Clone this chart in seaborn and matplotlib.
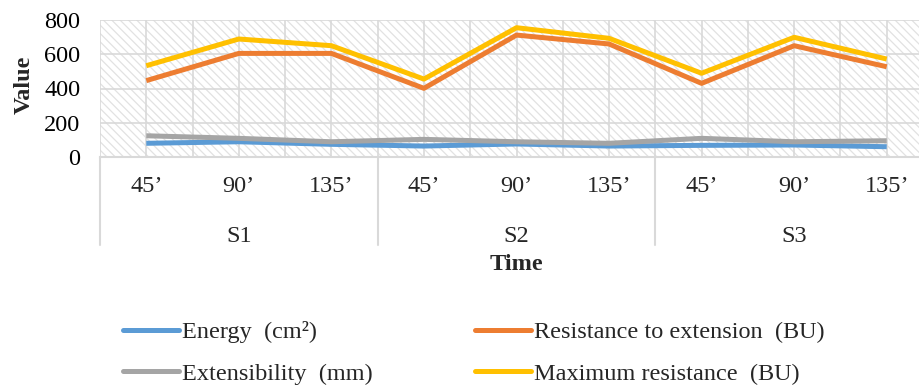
import matplotlib
matplotlib.use("Agg")
import matplotlib.pyplot as plt
from matplotlib.patches import Rectangle
from matplotlib.lines import Line2D
import numpy as np
import pandas as pd
import seaborn as sns

# ---- data ----
groups = ["S1", "S2", "S3"]
times = ["45\u2019", "90\u2019", "135\u2019"]
series_names = ["Energy  (cm\u00b2)", "Resistance to extension  (BU)",
                "Extensibility  (mm)", "Maximum resistance  (BU)"]
energy = [80, 89, 74, 64, 76, 64, 68, 70, 60]
resistance = [446, 605, 605, 401, 712, 660, 430, 650, 527]
extensibility = [124, 109, 89, 103, 89, 80, 109, 89, 95]
maximum = [533, 689, 650, 455, 755, 693, 489, 699, 572]
colors = ["#5B9BD5", "#ED7D31", "#A5A5A5", "#FFC000"]
y_ticks = [0, 200, 400, 600, 800]

# ---- long-form table ----
cats = [(g, t) for g in groups for t in times]
rows = []
for name, vals in zip(series_names, [energy, resistance, extensibility, maximum]):
    for i, v in enumerate(vals):
        rows.append({"pos": i, "group": cats[i][0], "time": cats[i][1],
                     "series": name, "value": v})
df = pd.DataFrame(rows)

sns.set_theme(style="white")
plt.rcParams["font.family"] = ["Liberation Serif", "DejaVu Serif"]
plt.rcParams["hatch.linewidth"] = 0.9

FS = 17.5
W, H = 920, 387
fig = plt.figure(figsize=(W / 100, H / 100), dpi=100)
ax_l, ax_r, ax_t, ax_b = 100, 933, 20, 157
ax = fig.add_axes([ax_l / W, 1 - ax_b / H, (ax_r - ax_l) / W, (ax_b - ax_t) / H])

# hatched plot background
bg = Rectangle((0, 0), 1, 1, transform=ax.transAxes, facecolor="white",
               edgecolor="#e2e2e2", hatch="\\\\\\\\", linewidth=0, zorder=0.1)
ax.add_patch(bg)
ax.patch.set_visible(False)

sns.lineplot(data=df, x="pos", y="value", hue="series", hue_order=series_names,
             palette=colors, linewidth=3.6, legend=False, ax=ax, zorder=3)
for ln in ax.get_lines():
    ln.set_solid_capstyle("butt")

n = len(cats)
ax.set_xlim(-0.5, n - 0.5)
ax.set_ylim(0, 800)
ax.set_yticks(y_ticks)
ax.set_xticks(np.arange(n))
ax.set_xticks(np.arange(n + 1) - 0.5, minor=True)
ax.set_xticklabels([])
ax.tick_params(axis="x", which="both", length=0)
ax.tick_params(axis="y", length=0, pad=14, labelsize=FS, colors="black")
ax.grid(True, which="both", color="#d9d9d9", linewidth=1.2, zorder=0.5)
ax.set_axisbelow(True)
for s in ["top", "right", "left"]:
    ax.spines[s].set_visible(False)
ax.spines["bottom"].set_color("#d9d9d9")
ax.spines["bottom"].set_linewidth(1.5)

# multi-level category axis
tr = ax.get_xaxis_transform()
h_ax = ax_b - ax_t
def yfrac(py):
    return (ax_b - py) / h_ax
for i, (g, t) in enumerate(cats):
    ax.text(i, yfrac(186), t, transform=tr, ha="center", va="center", fontsize=FS)
for gi, g in enumerate(groups):
    ax.text(gi * 3 + 1, yfrac(236), g, transform=tr, ha="center", va="center", fontsize=FS)
for b in np.arange(len(groups) + 1) * 3 - 0.5:
    ax.plot([b, b], [0, yfrac(245)], transform=tr, color="#d9d9d9",
            linewidth=1.5, clip_on=False, zorder=1)

ax.set_xlabel("Time", fontsize=FS, fontweight="bold")
ax.xaxis.set_label_coords((516 - ax_l) / (ax_r - ax_l), yfrac(264))
ax.xaxis.label.set_va("center")
ax.set_ylabel("Value", fontsize=FS, fontweight="bold")
ax.yaxis.set_label_coords(-(ax_l - 35) / (ax_r - ax_l), yfrac(85))

# legend
order = [0, 2, 1, 3]
handles = [Line2D([0], [0], color=colors[i], linewidth=3.6) for i in order]
labels = [series_names[i] for i in order]
fig.legend(handles, labels, ncol=2, loc="center", bbox_to_anchor=(474 / W, 1 - 353 / H),
           frameon=False, fontsize=FS, handlelength=2.3, handletextpad=0.12,
           columnspacing=4.2, labelspacing=0.8)

fig.savefig("out.png", dpi=100)
